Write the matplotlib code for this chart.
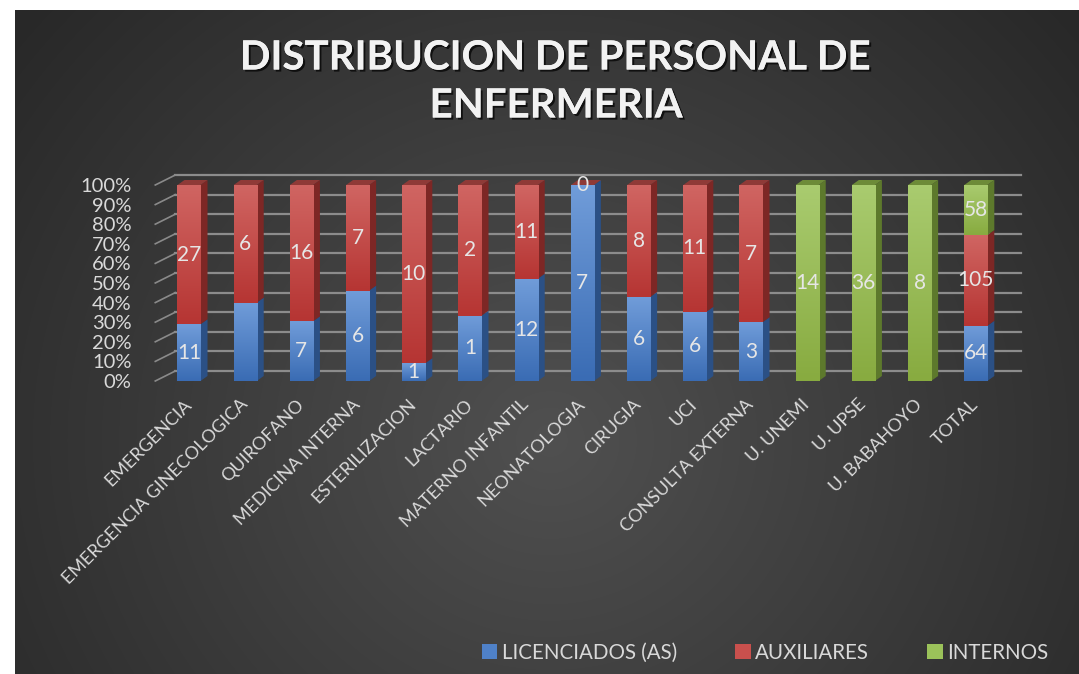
import numpy as np
import matplotlib.pyplot as plt
import matplotlib.patheffects as pe
from matplotlib.patches import Polygon, Patch
from matplotlib.colors import LinearSegmentedColormap

categorias = ['EMERGENCIA', 'EMERGENCIA GINECOLOGICA', 'QUIROFANO', 'MEDICINA INTERNA',
              'ESTERILIZACION', 'LACTARIO', 'MATERNO INFANTIL', 'NEONATOLOGIA', 'CIRUGIA',
              'UCI', 'CONSULTA EXTERNA', 'U. UNEMI', 'U. UPSE', 'U. BABAHOYO', 'TOTAL']
licenciados = [11, 4, 7, 6, 1, 1, 12, 7, 6, 6, 3, None, None, None, 64]
auxiliares = [27, 6, 16, 7, 10, 2, 11, 0, 8, 11, 7, None, None, None, 105]
internos = [None] * 11 + [14, 36, 8, 58]
series_names = ['LICENCIADOS (AS)', 'AUXILIARES', 'INTERNOS']
# etiquetas que no aparecen en el original (serie, categoria)
sin_etiqueta = [(0, 1)]

# (claro arriba, oscuro abajo, lateral, tapa, leyenda)
colores = [('#709cd9', '#3a6cb4', '#2b5085', '#3b5f96', '#4f81c8'),
           ('#d06562', '#b63533', '#7d2725', '#8f3a37', '#c9504d'),
           ('#a9cb6f', '#88ab40', '#5d792c', '#6d8b38', '#9bc25a')]

W, H = 1079, 674
dpi = 100
fig = plt.figure(figsize=(W / dpi, H / dpi), dpi=dpi)
fig.patch.set_facecolor('white')
plt.rcParams['font.family'] = ['Lato', 'DejaVu Sans']

# fondo degradado radial
bg = fig.add_axes([15 / W, 0, 1064 / W, 664 / H], zorder=-5)
yy, xx = np.mgrid[0:664, 0:1064]
d = np.sqrt(((xx - 535) / 1.0) ** 2 + ((yy - 430) / 0.95) ** 2)
v = 80 - 40 * np.clip(d / 690, 0, 1)
img = np.dstack([v, v, v]) / 255
bg.imshow(img, aspect='auto', interpolation='bilinear')
bg.axis('off')

# eje principal (cara frontal)
px_x = 56.2
px_y = 1.96
x0 = -0.6
x1 = 14.8
left = 189 + x0 * px_x
ax = fig.add_axes([left / W, (H - 381) / H, (x1 - x0) * px_x / W, 196 / H])
ax.set_facecolor('none')
for s in ax.spines.values():
    s.set_visible(False)

back_dx, back_dy = 20 / px_x, 10 / px_y
bar_dx, bar_dy = 7 / px_x, 5 / px_y
w = 0.41

# rejilla en la pared del fondo y diagonales del lado izquierdo
for g in range(0, 101, 10):
    ax.plot([x0 + back_dx, x1], [g + back_dy, g + back_dy], color='#8c8c8c', lw=1.6,
            clip_on=False, zorder=1)
    ax.plot([x0, x0 + back_dx], [g, g + back_dy], color='#8a8a8a', lw=1.2,
            clip_on=False, zorder=1)

series = [licenciados, auxiliares, internos]
n = len(categorias)
x = np.arange(n)
totales = [sum(s[i] for s in series if s[i] is not None) for i in range(n)]
bottoms = np.zeros(n)
ultima = [0] * n

for k, vals in enumerate(series):
    light, dark, side, top, leg = colores[k]
    cm = LinearSegmentedColormap.from_list('g%d' % k, [dark, light])
    pct = np.array([0 if v is None else 100 * v / totales[i] for i, v in enumerate(vals)])
    bars = ax.bar(x, pct, w, bottom=bottoms, color=light, zorder=3)
    for i, b in enumerate(bars):
        if vals[i] is None:
            continue
        ultima[i] = k
        b0, h = bottoms[i], pct[i]
        if h > 0:
            im = ax.imshow(np.linspace(0, 1, 64).reshape(-1, 1), cmap=cm,
                           extent=(x[i] - w / 2, x[i] + w / 2, b0, b0 + h),
                           aspect='auto', origin='lower', zorder=3.5,
                           interpolation='bilinear')
            im.set_clip_path(b)
            xr = x[i] + w / 2
            ax.add_patch(Polygon([(xr, b0), (xr + bar_dx, b0 + bar_dy),
                                  (xr + bar_dx, b0 + h + bar_dy), (xr, b0 + h)],
                                 closed=True, facecolor=side, edgecolor='none',
                                 zorder=3, clip_on=False))
        if (k, i) not in sin_etiqueta:
            ax.text(x[i], b0 + h / 2, str(vals[i]), ha='center', va='center',
                    fontsize=15, color='#e6e6e6', zorder=6, clip_on=False)
    bottoms = bottoms + pct

# tapas superiores
for i in range(n):
    top = colores[ultima[i]][3]
    ax.add_patch(Polygon([(x[i] - w / 2, 100), (x[i] + w / 2, 100),
                          (x[i] + w / 2 + bar_dx, 100 + bar_dy),
                          (x[i] - w / 2 + bar_dx, 100 + bar_dy)],
                         closed=True, facecolor=top, edgecolor='none', zorder=3,
                         clip_on=False))

ax.set_xlim(x0, x1)
ax.set_ylim(0, 100)
ax.set_yticks(range(0, 101, 10))
ax.set_yticklabels(['%d%%' % t for t in range(0, 101, 10)], fontsize=14.5, color='#d9d9d9')
ax.set_xticks(x)
ax.set_xticklabels(categorias, rotation=45, ha='right', va='center',
                   rotation_mode='anchor', fontsize=13, color='#d9d9d9')
ax.tick_params(axis='y', length=0, pad=17)
ax.tick_params(axis='x', length=0, pad=15)

# titulo
sombra = [pe.withSimplePatchShadow(offset=(1.5, -1.5), shadow_rgbFace='black', alpha=0.7),
          pe.Normal()]
fig.text(555 / W, 1 - 58 / H, 'DISTRIBUCION DE PERSONAL DE', ha='center', va='center',
         fontsize=29, fontweight='bold', color='#f2f2f2', path_effects=sombra)
fig.text(556 / W, 1 - 106 / H, 'ENFERMERIA', ha='center', va='center',
         fontsize=29, fontweight='bold', color='#f2f2f2', path_effects=sombra)

handles = [Patch(facecolor=c[4], edgecolor='none') for c in colores]
fig.legend(handles, series_names, ncol=3, loc='center',
           bbox_to_anchor=(765 / W, 1 - 653 / H), frameon=False,
           handlelength=0.75, handleheight=0.75, handletextpad=0.2,
           columnspacing=2.85, fontsize=14.8, labelcolor='#d9d9d9')

fig.savefig('out.png', dpi=dpi, facecolor=fig.get_facecolor())
